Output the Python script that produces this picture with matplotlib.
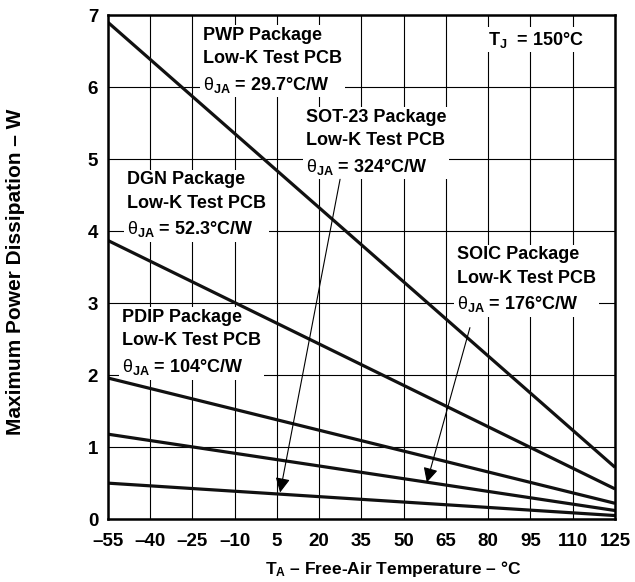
import matplotlib.pyplot as plt

plt.rcParams['font.family'] = ['Liberation Sans', 'DejaVu Sans']
plt.rcParams['mathtext.fontset'] = 'custom'
plt.rcParams['mathtext.rm'] = 'Liberation Sans:bold'
plt.rcParams['mathtext.bf'] = 'Liberation Sans:bold'
plt.rcParams['mathtext.it'] = 'Liberation Sans'

# ambient temperature range (deg C)
t_range = [-55, 125]

# derating curves, power (W) at -55 and at 125 deg C
pwp = [6.90, 0.72]
dgn = [3.87, 0.42]
pdip = [1.96, 0.22]
soic = [1.18, 0.12]
sot23 = [0.50, 0.05]

x_ticks = [-55, -40, -25, -10, 5, 20, 35, 50, 65, 80, 95, 110, 125]
x_tick_labels = ['\u201355', '\u201340', '\u201325', '\u201310', '5', '20', '35',
                 '50', '65', '80', '95', '110', '125']
y_ticks = [0, 1, 2, 3, 4, 5, 6, 7]

fig = plt.figure(figsize=(6.35, 5.82), dpi=100)
ax = fig.add_axes([0.170, 0.108, 0.7985, 0.866])

for curve in [pwp, dgn, pdip, soic, sot23]:
    ax.plot(t_range, curve, color='#111111', lw=2.3, solid_capstyle='butt', zorder=3)

ax.set_xlim(-55, 125)
ax.set_ylim(0, 7)
ax.set_xticks(x_ticks)
ax.set_xticklabels(x_tick_labels)
ax.set_yticks(y_ticks)
ax.tick_params(length=0, labelsize=13.5)
ax.tick_params(axis='x', pad=10)
ax.tick_params(axis='y', pad=7)
for lbl in ax.get_xticklabels() + ax.get_yticklabels():
    lbl.set_fontweight('bold')
ax.grid(True, color='black', lw=0.8, zorder=1)
for s in ax.spines.values():
    s.set_linewidth(1.8)
    s.set_zorder(4)

box = dict(facecolor='white', edgecolor='none', pad=2)
txt = dict(fontsize=13, fontweight='bold', va='top', ha='left', linespacing=1.5, bbox=box, zorder=2)

th = '$\\theta_{\\mathbf{JA}}$'
ax.text(-21.3, 6.84, 'PWP Package\nLow-K Test PCB\n' + th + ' = 29.7\u00b0C/W', **txt)
ax.text(15.3, 5.70, 'SOT-23 Package\nLow-K Test PCB\n' + th + ' = 324\u00b0C/W', **txt)
ax.text(-48.3, 4.83, 'DGN Package\nLow-K Test PCB\n' + th + ' = 52.3\u00b0C/W', **txt)
ax.text(68.9, 3.79, 'SOIC Package\nLow-K Test PCB\n' + th + ' = 176\u00b0C/W', **txt)
ax.text(-50, 2.92, 'PDIP Package\nLow-K Test PCB\n' + th + ' = 104\u00b0C/W', **txt)
ax.text(80, 6.80, '$\\mathbf{T_J}$  = 150\u00b0C', fontsize=13, fontweight='bold', va='top',
        ha='left', bbox=box, zorder=2)

arrow = dict(arrowstyle='-|>', color='black', lw=0.8, mutation_scale=22, shrinkA=0, shrinkB=0)
ax.annotate('', xy=(6.1, 0.37), xytext=(27.4, 4.72), arrowprops=arrow, zorder=5)
ax.annotate('', xy=(58.2, 0.51), xytext=(73.5, 2.66), arrowprops=arrow, zorder=5)

ax.set_xlabel('$\\mathbf{T_A}$ \u2013 Free-Air Temperature \u2013 \u00b0C', fontsize=12.5,
              fontweight='bold')
ax.set_ylabel('Maximum Power Dissipation \u2013 W', fontsize=15, fontweight='bold')
ax.xaxis.set_label_coords(0.563, -0.080)
ax.yaxis.set_label_coords(-0.164, 0.491)

fig.savefig('out.png', dpi=100)
